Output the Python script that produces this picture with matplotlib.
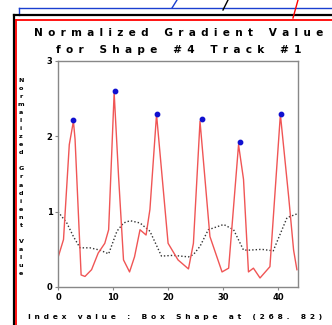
import matplotlib
matplotlib.use('Agg')
import matplotlib.pyplot as plt
from matplotlib.lines import Line2D

# red line: normalized gradient
red_x = [0, 1, 2.05, 2.8, 3.1, 4.2, 4.9, 6.1, 7.3, 8.5, 9.2, 10.2, 11, 11.9, 13, 13.9, 14.9, 16, 16.7, 17.9,
         20, 21.8, 23.7, 24.6, 25.8, 27.6, 29.8, 31, 32.8, 33.7, 34.6, 35.5, 36.7, 38.5, 40.4, 41.9, 42.8, 43.4]
red_y = [0.39, 0.63, 1.89, 2.2, 1.96, 0.16, 0.14, 0.23, 0.45, 0.58, 0.76, 2.58, 1.47, 0.36, 0.2, 0.4, 0.76, 0.69, 1.03, 2.29,
         0.58, 0.36, 0.24, 0.58, 2.2, 0.67, 0.2, 0.25, 1.89, 1.43, 0.2, 0.25, 0.12, 0.27, 2.29, 1.2, 0.49, 0.23]

# black dotted line
blk_x = [0, 1.6, 2.8, 4, 5.8, 7.6, 9.2, 10.7, 11.9, 13.1, 14.9, 16.7, 18.8, 20.9, 23.7, 24.6, 25.8, 27.3, 30.1,
         31.9, 33.7, 34.9, 37, 39.1, 41.6, 43.4]
blk_y = [1.0, 0.85, 0.67, 0.52, 0.52, 0.49, 0.44, 0.74, 0.85, 0.88, 0.85, 0.74, 0.41, 0.42, 0.4, 0.43, 0.54, 0.76, 0.83,
         0.76, 0.49, 0.49, 0.5, 0.48, 0.92, 0.97]

# peaks (blue dots)
peak_x = [2.7, 10.4, 18.05, 26.1, 33.1, 40.5]
peak_y = [2.22, 2.6, 2.29, 2.23, 1.92, 2.29]

title = 'Normalized Gradient Value\nfor Shape #4 Track #1'
xlabel = 'Index value : Box Shape at (268. 82)'
ylabel = 'Normalized Gradient Value'

EN = '\u2002'


def spaced(s):
    # wide letter spacing like the original
    return '\n'.join(EN.join(line.replace(' ', EN)) for line in s.split('\n'))


W, H = 332, 325
fig = plt.figure(figsize=(W / 100, H / 100), dpi=100)

# window frames at the top/left
def fline(x0, y0, x1, y1, c, lw=1.0):
    fig.add_artist(Line2D([x0 / W, x1 / W], [1 - y0 / H, 1 - y1 / H], color=c, lw=lw,
                          transform=fig.transFigure))

fline(19, 8, 332, 8, '#1a3fd0')
fline(19, 8, 19, 15, '#1a3fd0')
fline(172, 8, 177, 0, '#1a3fd0')
fline(13.5, 15, 332, 15, 'black', 1.6)
fline(13.5, 15, 13.5, 325, 'black', 1.6)
fline(223, 10, 228, 0, 'black')
fline(16, 19.5, 332, 19.5, 'red', 1.3)
fline(16, 19.5, 16, 325, 'red', 1.3)
fline(293, 18, 298, 0, 'red')

ax = fig.add_axes([58 / W, 1 - 287 / H, 240 / W, 226 / H])
ax.plot(blk_x, blk_y, color='#333333', lw=1.0, ls=(0, (1, 1.5)))
ax.plot(red_x, red_y, color='#f05555', lw=1.0)
ax.scatter(peak_x, peak_y, s=10, color='#1010d0', marker='o', zorder=3)

ax.set_xlim(0, 43.6)
ax.set_ylim(0, 3)
ax.set_xticks([0, 10, 20, 30, 40])
ax.set_yticks([0, 1, 2, 3])
for s in ax.spines.values():
    s.set_color('#888888')
    s.set_linewidth(1.0)
ax.tick_params(length=2, width=0.8, color='#888888', labelsize=6, pad=2)
for lab in ax.get_xticklabels() + ax.get_yticklabels():
    lab.set_fontweight('bold')

fig.text(179 / W, 1 - 41.5 / H, spaced(title), ha='center', va='center', fontsize=7.6,
         fontweight='bold', linespacing=1.8)
fig.text(175 / W, 1 - 317 / H, spaced(xlabel), ha='center', va='center', fontsize=5.4,
         fontweight='bold')
fig.text(21 / W, 1 - 177 / H, '\n'.join(ylabel), ha='center', va='center',
         fontsize=4.6, fontweight='bold', linespacing=1.77)

fig.savefig('out.png', dpi=100)
